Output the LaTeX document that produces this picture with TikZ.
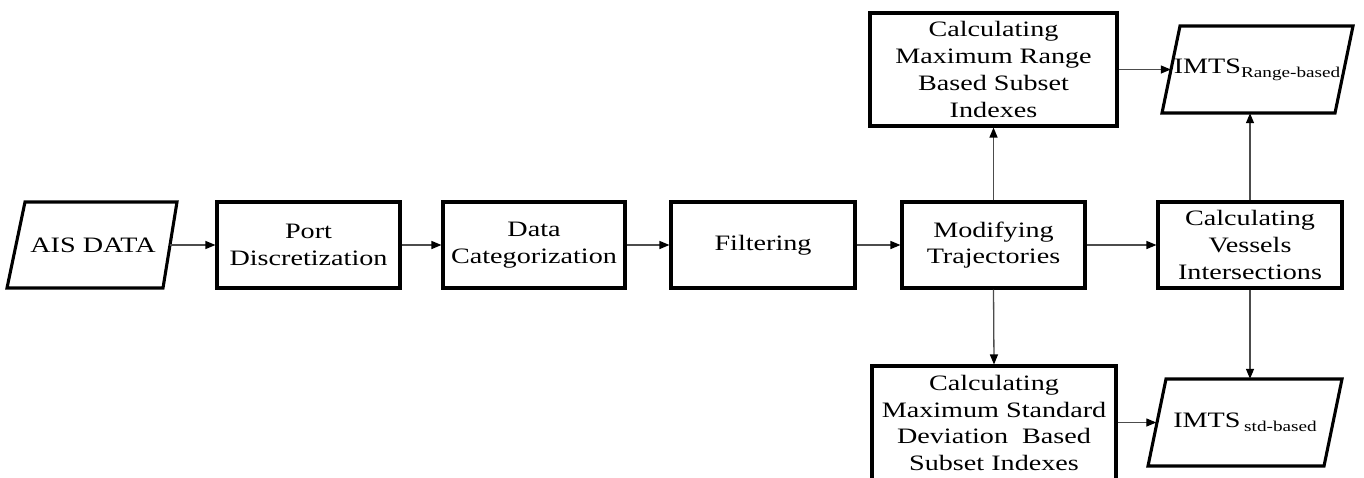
\documentclass[tikz,border=0pt]{standalone}
\usepackage{fontspec}
\setmainfont{Liberation Serif}[FakeStretch=1.28]
\usetikzlibrary{arrows.meta}
\newcommand{\subtxt}[1]{\raisebox{-4pt}{\fontsize{15}{15}\selectfont #1}}
\begin{document}
\begin{tikzpicture}[x=1pt,y=-1pt,
  boxstyle/.style={draw=black,line width=3.1pt,fill=white,align=center,inner sep=0pt,
    font=\fontsize{22}{26.7}\selectfont},
  hidden/.style={draw=none,inner sep=0pt,align=center,font=\fontsize{22}{26.7}\selectfont},
  para/.style={draw=black,line width=3.1pt,line join=miter},
  conn/.style={draw=black!70,line width=1.3pt,-{Triangle[length=10pt,width=8pt,color=black]}}]
\useasboundingbox[fill=white] (0,0) rectangle (1364,477);
% parallelograms
\draw[para] (7,288) -- (25,202) -- (177,202) -- (163,288) -- cycle;
\node[hidden,minimum width=154pt,minimum height=86pt] (ais) at (93,245) {AIS DATA};
\draw[para] (1162,113) -- (1180,26) -- (1353,26) -- (1335,113) -- cycle;
\node[hidden,minimum width=172pt,minimum height=87pt] (imtsr) at (1257,69.5) {IMTS\subtxt{Range-based}};
\draw[para] (1148,466) -- (1166,379) -- (1342,379) -- (1324,466) -- cycle;
\node[hidden,minimum width=177pt,minimum height=87pt] (imtss) at (1245,422.5) {IMTS\,\subtxt{std-based}};
% boxes
\node[boxstyle,minimum width=183pt,minimum height=86pt] (port) at (308.5,245) {Port\\Discretization};
\node[boxstyle,minimum width=182pt,minimum height=86pt] (data) at (534,245) {Data\\Categorization};
\node[boxstyle,minimum width=184pt,minimum height=86pt] (filt) at (763,245) {Filtering};
\node[boxstyle,minimum width=183pt,minimum height=86pt] (mod) at (993.5,245) {Modifying\\Trajectories};
\node[boxstyle,minimum width=184pt,minimum height=86pt] (vess) at (1250,245) {Calculating\\Vessels\\Intersections};
\node[boxstyle,minimum width=247pt,minimum height=113pt] (range) at (993.5,69.5) {Calculating\\Maximum Range\\Based Subset\\Indexes};
\node[boxstyle,minimum width=244pt,minimum height=114pt] (std) at (994,423) {Calculating\\Maximum Standard\\Deviation\ \ Based\\Subset Indexes};
% connectors
\draw[conn] (ais.east) -- (port.west);
\draw[conn] (port.east) -- (data.west);
\draw[conn] (data.east) -- (filt.west);
\draw[conn] (filt.east) -- (mod.west);
\draw[conn] (mod.east) -- (vess.west);
\draw[conn] (mod.north) -- (range.south);
\draw[conn] (mod.south) -- (std.north);
\draw[conn] (range.east) -- (range.east -| imtsr.west);
\draw[conn] (std.east |- imtss.west) -- (imtss.west);
\draw[conn] (vess.north) -- (vess.north |- imtsr.south);
\draw[conn] (vess.south) -- (vess.south |- imtss.north);
\end{tikzpicture}
\end{document}
